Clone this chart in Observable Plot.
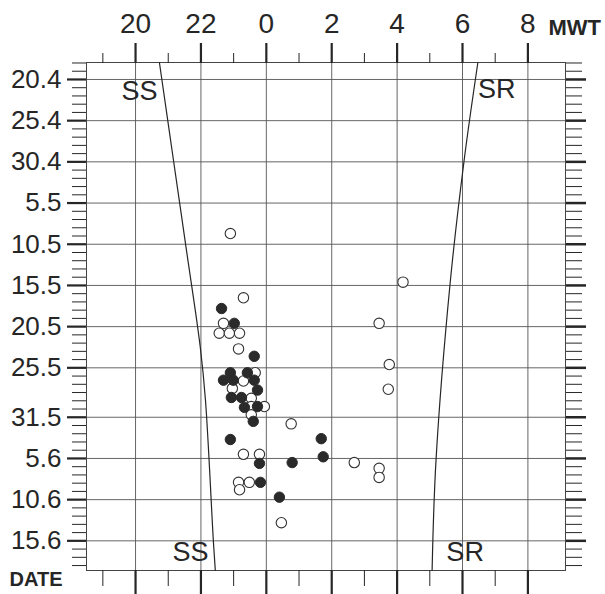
<!DOCTYPE html>
<html><head><meta charset="utf-8">
<script src="https://cdn.jsdelivr.net/npm/d3@7"></script>
<script src="https://cdn.jsdelivr.net/npm/@observablehq/plot@0.6"></script>
<style>
html,body{margin:0;padding:0;background:#fff;}
#chart svg{display:block;}
</style></head><body><div id="chart"></div>
<script>
// Time axis (MWT): continuous hours, values above 24 are after midnight
const hourTicks = [20, 22, 24, 26, 28, 30, 32];
const hourTickLabels = ["20", "22", "0", "2", "4", "6", "8"];
const hourMinorTicks = [19, 21, 23, 25, 27, 29, 31];

// Date axis labels (day.month)
const dateTickLabels = ["20.4","25.4","30.4","5.5","10.5","15.5","20.5","25.5","31.5","5.6","10.6","15.6"];

// Observations: hour and day offset from 20 April
const filledHour = [22.63, 23.02, 23.63, 22.90, 22.69, 22.99, 23.42, 23.63, 23.73, 22.93, 23.24, 23.33, 23.73, 23.60, 22.90, 25.68, 23.79, 24.79, 25.74, 23.82, 24.40];
const filledDay  = [27.8, 29.6, 33.6, 35.6, 36.5, 36.5, 35.6, 36.5, 37.7, 38.6, 38.6, 39.8, 39.7, 41.5, 43.7, 43.6, 46.6, 46.5, 45.8, 48.9, 50.7];

const openHour = [22.90, 23.30, 22.69, 22.56, 22.87, 23.18, 23.15, 23.66, 23.30, 22.96, 23.54, 23.54, 23.94, 23.54, 24.76, 23.30, 23.79, 26.69, 27.45, 27.45, 23.15, 23.18, 23.48, 24.46, 28.18, 27.45, 27.76, 27.73];
const openDay  = [18.7, 26.5, 29.6, 30.8, 30.8, 30.8, 32.7, 35.6, 36.6, 37.5, 38.7, 39.7, 39.7, 40.7, 41.8, 45.5, 45.5, 46.5, 47.2, 48.3, 48.9, 49.8, 48.9, 53.8, 24.6, 29.6, 34.6, 37.6];

// Sunset (SS) and sunrise (SR) curves
const ssHour = [20.73, 21.16, 21.56, 21.98, 22.14, 22.38, 22.44];
const ssDay  = [-2.06, 9.8, 20.8, 32.5, 39.0, 56.0, 59.6];
const srHour = [30.47, 30.05, 29.62, 29.19, 29.07];
const srDay  = [-2.06, 9.8, 24.8, 46.2, 59.6];

// Curve labels
const curveLabelText = ["SS", "SR", "SS", "SR"];
const curveLabelHour = [20.12, 31.05, 21.68, 30.08];
const curveLabelDay  = [1.5, 1.2, 57.4, 57.4];

// ---- derived ----
const base = Date.UTC(2001, 3, 20);
const dayOf = s => { const [d, m] = s.split(".").map(Number); return Math.round((Date.UTC(2001, m - 1, d) - base) / 864e5); };
const dateTicks = dateTickLabels.map(dayOf);
const dateLabelMap = new Map(dateTicks.map((d, i) => [d, dateTickLabels[i]]));
const hourLabelMap = new Map(hourTicks.map((h, i) => [h, hourTickLabels[i]]));
const dateMinor = d3.range(-2, 60).filter(d => !dateTicks.includes(d));

const filled = filledHour.map((h, i) => ({h, d: filledDay[i]}));
const open = openHour.map((h, i) => ({h, d: openDay[i]}));
const ss = ssHour.map((h, i) => ({h, d: ssDay[i]}));
const sr = srHour.map((h, i) => ({h, d: srDay[i]}));
const curveLabels = curveLabelText.map((t, i) => ({t, h: curveLabelHour[i], d: curveLabelDay[i]}));

const ink = "#262626";
const fontFam = "'Liberation Sans', Arial, Helvetica, sans-serif";

const chart = Plot.plot({
  width: 605, height: 594,
  marginLeft: 86, marginRight: 40, marginTop: 62, marginBottom: 24,
  style: {fontFamily: fontFam, background: "#fff", color: ink, overflow: "visible"},
  x: {domain: [18.5, 33.15]},
  y: {domain: [-2.06, 59.6], reverse: true},
  marks: [
    Plot.gridX(hourTicks, {stroke: "#555", strokeOpacity: 1, strokeWidth: 0.9}),
    Plot.gridY(dateTicks, {stroke: "#555", strokeOpacity: 1, strokeWidth: 0.9}),
    Plot.frame({stroke: "#444", strokeWidth: 1}),
    // top axis
    Plot.axisX(hourMinorTicks, {anchor: "top", tickSize: 10, tickFormat: () => "", label: null, strokeWidth: 1}),
    Plot.axisX(hourTicks, {anchor: "top", tickSize: 20, tickPadding: 10, strokeWidth: 2.2, tickFormat: h => hourLabelMap.get(h), fontSize: 28, label: null}),
    // bottom axis (ticks only)
    Plot.axisX(hourMinorTicks, {anchor: "bottom", tickSize: 16, tickFormat: () => "", label: null, strokeWidth: 1}),
    Plot.axisX(hourTicks, {anchor: "bottom", tickSize: 26, tickFormat: () => "", label: null, strokeWidth: 2.2}),
    // left axis
    Plot.axisY(dateMinor, {anchor: "left", tickSize: 14, tickFormat: () => "", label: null, strokeWidth: 1}),
    Plot.axisY(dateTicks, {anchor: "left", tickSize: 19, tickPadding: 6, strokeWidth: 2.2, tickFormat: d => dateLabelMap.get(d), fontSize: 26, label: null}),
    // right axis (ticks only)
    Plot.axisY(dateMinor, {anchor: "right", tickSize: 16, tickFormat: () => "", label: null, strokeWidth: 1}),
    Plot.axisY(dateTicks, {anchor: "right", tickSize: 20, tickFormat: () => "", label: null, strokeWidth: 2.5}),
    // SS / SR curves
    Plot.line(ss, {x: "h", y: "d", curve: "catmull-rom", stroke: ink, strokeWidth: 1.2}),
    Plot.line(sr, {x: "h", y: "d", curve: "catmull-rom", stroke: ink, strokeWidth: 1.2}),
    Plot.text(curveLabels, {x: "h", y: "d", text: "t", fontSize: 27, fill: ink}),
    // observations
    Plot.dot(open, {x: "h", y: "d", r: 5.2, fill: "#fff", stroke: "#333", strokeWidth: 1.1}),
    Plot.dot(filled, {x: "h", y: "d", r: 5.2, fill: "#2a2a2a", stroke: "#2a2a2a", strokeWidth: 1}),
    // corner labels
    Plot.text(["MWT"], {frameAnchor: "top-right", textAnchor: "start", dx: -17, dy: -43, fontWeight: "bold", fontSize: 22, fill: ink}),
    Plot.text(["DATE"], {frameAnchor: "bottom-left", textAnchor: "end", dx: -24, dy: 15, fontWeight: "bold", fontSize: 20, fill: ink})
  ]
});
document.getElementById("chart").appendChild(chart);
</script>
</body></html>
